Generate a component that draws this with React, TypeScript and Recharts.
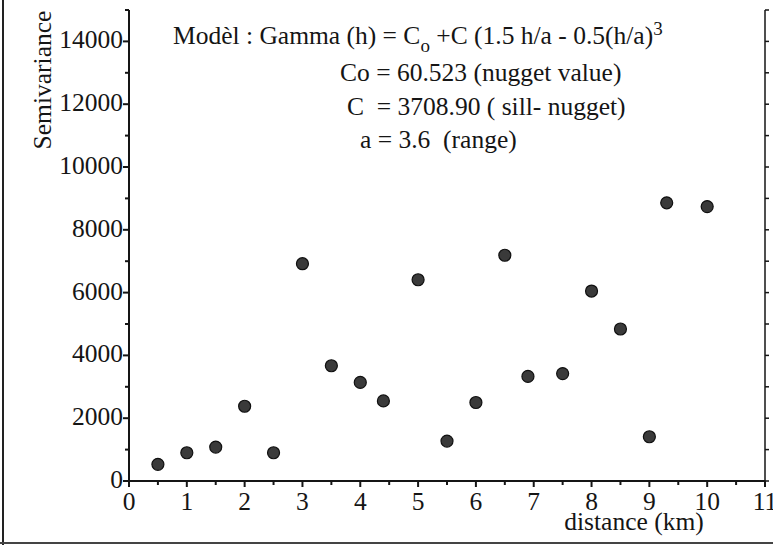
import React from 'react';
import { ScatterChart, Scatter, XAxis, YAxis } from 'recharts';

const distances = [0.5, 1, 1.5, 2, 2.5, 3, 3.5, 4, 4.4, 5, 5.5, 6, 6.5, 6.9, 7.5, 8, 8.5, 9, 9.3, 10];
const semivariance = [530, 900, 1080, 2380, 900, 6920, 3670, 3140, 2550, 6410, 1270, 2500, 7190, 3330, 3420, 6050, 4840, 1410, 8860, 8740];
const xTicks = [0, 0.5, 1, 1.5, 2, 2.5, 3, 3.5, 4, 4.5, 5, 5.5, 6, 6.5, 7, 7.5, 8, 8.5, 9, 9.5, 10, 10.5, 11];
const xLabelTicks = [0, 1, 2, 3, 4, 5, 6, 7, 8, 9, 10, 11];
const yTicks = [0, 1000, 2000, 3000, 4000, 5000, 6000, 7000, 8000, 9000, 10000, 11000, 12000, 13000, 14000, 15000];
const yLabelTicks = [0, 2000, 4000, 6000, 8000, 10000, 12000, 14000];

const data = distances.map((d, i) => ({ d, v: semivariance[i] }));

const FONT = "'Liberation Serif', 'Times New Roman', 'DejaVu Serif', serif";
const INK = '#151515';
const TS = { fontFamily: FONT, fontSize: 25.5 };

const BottomTick = (props: any) => {
  const { x, y, payload } = props;
  const v = payload.value;
  const major = xLabelTicks.includes(v);
  return (
    <g>
      <line x1={x} x2={x} y1={y} y2={y + (major ? 6 : 4)} stroke={INK} strokeWidth={2} />
      {major && (
        <text x={x} y={y + 29} textAnchor="middle" style={TS} fill={INK}>
          {v}
        </text>
      )}
    </g>
  );
};

const TopTick = (props: any) => {
  const { x, y, payload } = props;
  const major = xLabelTicks.includes(payload.value);
  return <line x1={x} x2={x} y1={y} y2={y - (major ? 5 : 3)} stroke={INK} strokeWidth={1.5} />;
};

const LeftTick = (props: any) => {
  const { x, y, payload } = props;
  const v = payload.value;
  const major = yLabelTicks.includes(v);
  return (
    <g>
      <line x1={x} x2={x - (major ? 6 : 4)} y1={y} y2={y} stroke={INK} strokeWidth={2} />
      {major && (
        <text x={x - 6} y={y + 7} textAnchor="end" style={TS} fill={INK}>
          {v}
        </text>
      )}
    </g>
  );
};

const RightTick = (props: any) => {
  const { x, y } = props;
  return <line x1={x} x2={x + 4} y1={y} y2={y} stroke={INK} strokeWidth={1.5} />;
};

const Dot = (props: any) => (
  <circle cx={props.cx} cy={props.cy} r={6} fill="#3a3a3a" stroke="#101010" strokeWidth={1.2} />
);

export default function App() {
  return (
    <div style={{ position: 'relative', width: 773, height: 545, background: '#fff' }}>
      <style>{'body{margin:0;background:#fff}'}</style>
      <ScatterChart width={773} height={545} margin={{ top: 10, right: 0, bottom: 0, left: 0 }}>
        <XAxis
          xAxisId="b"
          dataKey="d"
          type="number"
          domain={[0, 11]}
          ticks={xTicks}
          interval={0}
          height={64}
          tickSize={0}
          tickMargin={0}
          tick={<BottomTick />}
          axisLine={{ stroke: INK, strokeWidth: 2 }}
          allowDataOverflow
        />
        <XAxis
          xAxisId="t"
          orientation="top"
          type="number"
          domain={[0, 11]}
          ticks={xTicks}
          interval={0}
          height={0}
          tickSize={0}
          tickMargin={0}
          tick={<TopTick />}
          axisLine={{ stroke: INK, strokeWidth: 1.5 }}
          allowDataOverflow
        />
        <YAxis
          yAxisId="l"
          dataKey="v"
          type="number"
          domain={[0, 15000]}
          ticks={yTicks}
          interval={0}
          width={129}
          tickSize={0}
          tickMargin={0}
          tick={<LeftTick />}
          axisLine={{ stroke: INK, strokeWidth: 2 }}
          allowDataOverflow
        />
        <YAxis
          yAxisId="r"
          orientation="right"
          type="number"
          domain={[0, 15000]}
          ticks={yTicks}
          interval={0}
          width={8}
          tickSize={0}
          tickMargin={0}
          tick={<RightTick />}
          axisLine={{ stroke: INK, strokeWidth: 1.5 }}
          allowDataOverflow
        />
        <Scatter xAxisId="b" yAxisId="l" data={data} shape={<Dot />} isAnimationActive={false} />
      </ScatterChart>
      <svg
        width={773}
        height={545}
        style={{ position: 'absolute', left: 0, top: 0, pointerEvents: 'none', fontFamily: FONT, fontSize: 25.5 }}
        fill={INK}
      >
        <line x1={3} x2={3} y1={0} y2={545} stroke="#222" strokeWidth={2} />
        <line x1={0} x2={773} y1={543} y2={543} stroke="#444" strokeWidth={2} />
        <text transform="translate(51,80) rotate(-90)" textAnchor="middle" style={TS}>
          Semivariance
        </text>
        <text x={634} y={530} textAnchor="middle" style={TS}>
          distance (km)
        </text>
        <text x={173} y={44} style={TS}>
          Modèl : Gamma (h) = C
          <tspan dy={8} style={{ fontSize: 19 }}>o</tspan>
          <tspan dy={-8}> +C (1.5 h/a - 0.5(h/a)</tspan>
          <tspan dy={-9} style={{ fontSize: 19 }}>3</tspan>
        </text>
        <text x={340} y={81} style={TS}>Co = 60.523 (nugget value)</text>
        <text x={347} y={115} style={{ ...TS, whiteSpace: 'pre' }}>{'C  = 3708.90 ( sill- nugget)'}</text>
        <text x={360} y={148} style={{ ...TS, whiteSpace: 'pre' }}>{'a = 3.6  (range)'}</text>
      </svg>
    </div>
  );
}
